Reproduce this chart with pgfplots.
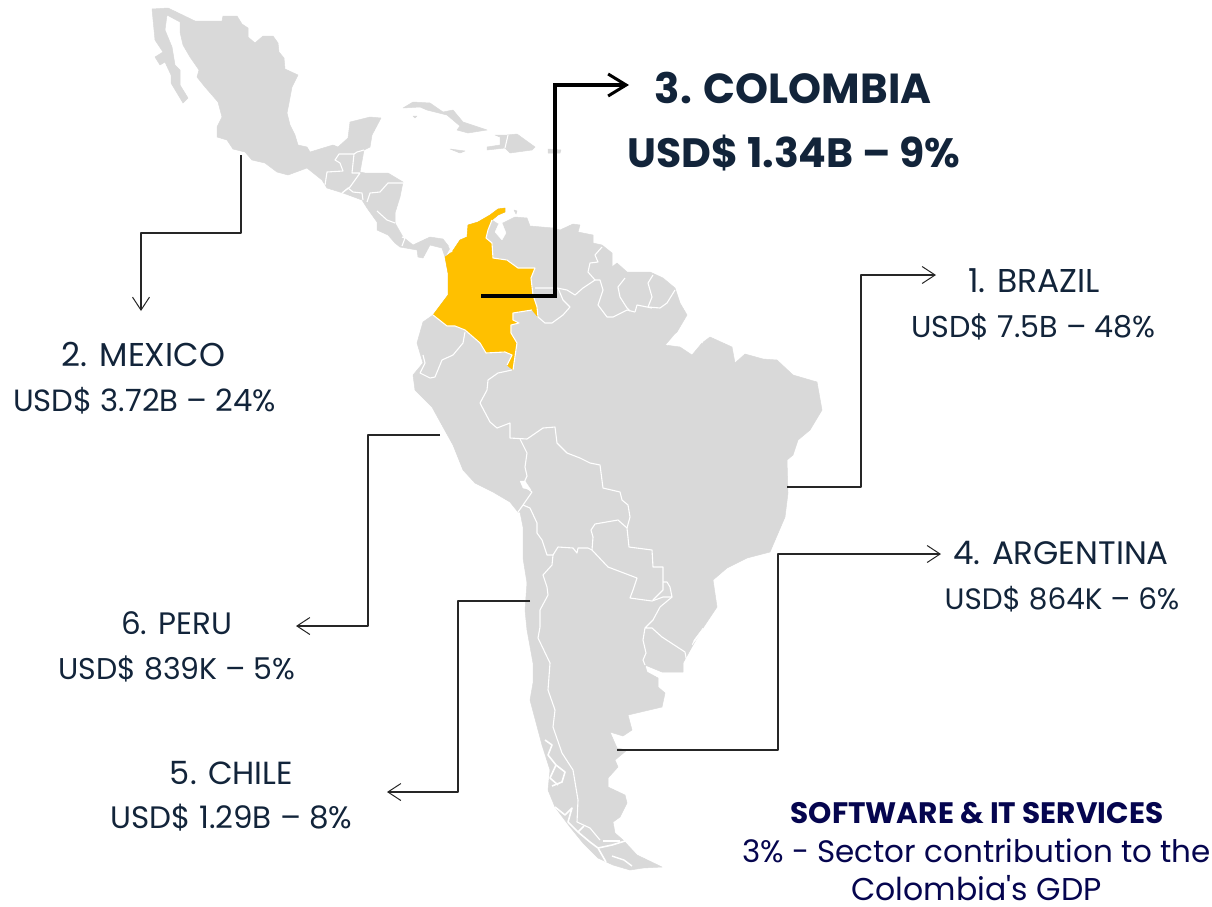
\documentclass[border=0pt]{standalone}
\usepackage{pgfplots}
\pgfplotsset{compat=1.18}
\usepackage{fontspec}
\setmainfont{Poppins}[Ligatures=TeXOff]
\usetikzlibrary{arrows.meta}
\definecolor{land}{HTML}{D9D9D9}
\definecolor{gold}{HTML}{FFC000}
\definecolor{ink}{HTML}{12243A}
\definecolor{navy}{HTML}{05054F}
\newcommand{\fs}[1]{\fontsize{#1}{#1}\selectfont\ignorespaces}
\tikzset{lab/.style={anchor=base, inner sep=0pt, outer sep=0pt}}
\begin{document}
\begin{tikzpicture}
\begin{axis}[
  hide axis, scale only axis, width=1212pt, height=906pt,
  xmin=0, xmax=1212, ymin=0, ymax=906, y dir=reverse,
  clip=false,
  every axis plot/.append style={line join=round},
  land/.style={fill=land, draw=land, line width=0.5pt},
  border/.style={draw=white, line width=1.1pt, no marks},
  leader/.style={draw=black!85, line width=1.2pt, -{Straight Barb[length=13pt,width=17pt,line width=1pt]}},
]
\addplot[draw=none] coordinates {(0,0)(1212,906)};

% mexico and central america
\addplot[land] coordinates {(152,9)(168,8)(195,21)(222,21)(223,16)(237,16)(242,24)(248,28)(248,37)(255,43)(263,36)(273,36)(278,43)(279,52)(284,58)(285,69)(298,75)(292,87)(289,103)(287,113)(290,125)(295,135)(298,145)(307,147)(310,152)(333,145)(338,147)(348,138)(350,122)(370,117)(381,118)(372,135)(370,147)(364,150)(360,172)(365,173)(388,173)(403,182)(400,197)(395,213)(395,223)(403,237)(413,245)(430,237)(443,239)(450,248)(445,257)(442,248)(430,245)(423,258)(418,257)(417,250)(400,247)(395,243)(388,235)(377,230)(377,222)(367,208)(362,200)(343,193)(327,188)(322,180)(307,168)(288,175)(277,172)(265,163)(252,160)(245,152)(233,149)(227,140)(217,137)(217,127)(222,117)(218,102)(205,87)(197,77)(199,70)(190,57)(183,45)(180,32)(180,22)(167,15)(165,30)(172,47)(175,65)(180,70)(180,85)(188,98)(183,103)(171,83)(171,75)(165,62)(160,65)(155,57)(163,52)(155,40)} -- cycle;
% caribbean
\addplot[land] coordinates {(403,108)(413,102)(430,103)(443,112)(453,110)(463,122)(487,130)(468,133)(457,130)(460,126)(447,115)(427,110)(420,107)} -- cycle;
\addplot[land] coordinates {(450,149)(465,151)(460,153)} -- cycle;
\addplot[land] coordinates {(495,135)(507,135)(517,134)(535,147)(532,150)(510,153)(505,148)(487,150)(487,147)(500,145)(500,137)} -- cycle;
\addplot[land] coordinates {(548,149)(561,150)(560,153)(548,153)} -- cycle;
\addplot[land] coordinates {(413,116)(417,116)(415,118)} -- cycle;
\addplot[land] coordinates {(514,210)(517,211)(516,214)} -- cycle;

% south america
\addplot[land] coordinates {(505,208)(505,212)(498,215)(492,220)(498,224)(503,223)(515,217)(527,218)(530,226)(553,228)(560,230)(573,224)(580,225)(578,232)(593,235)(593,243)(602,245)(612,253)(612,267)(617,263)(627,272)(650,272)(663,278)(675,288)(680,303)(687,315)(677,332)(665,345)(680,347)(692,355)(702,343)(710,337)(732,347)(735,363)(745,354)(763,359)(777,360)(793,375)(817,382)(822,410)(810,430)(798,440)(793,455)(787,460)(788,493)(785,517)(770,552)(747,558)(727,568)(713,580)(717,607)(703,628)(693,645)(683,663)(683,672)(662,672)(645,665)(647,672)(658,678)(658,687)(665,693)(662,707)(628,715)(632,730)(623,736)(610,732)(617,748)(627,750)(615,760)(618,767)(608,778)(608,787)(625,795)(627,803)(620,817)(613,822)(615,833)(623,840)(637,855)(662,867)(643,868)(630,870)(613,865)(598,858)(583,843)(570,827)(555,807)(548,790)(550,770)(542,745)(538,730)(530,700)(533,683)(533,663)(527,630)(525,610)(527,583)(523,558)(523,527)(520,512)(518,512)(510,502)(493,492)(475,483)(463,470)(453,445)(443,427)(432,407)(415,390)(413,375)(423,363)(417,343)(423,322)(433,315)(448,295)(448,273)(445,257)(452,252)(460,240)(467,237)(468,225)(478,222)(490,215)(498,209)} -- cycle;
% colombia
\addplot[fill=gold, draw=gold, line width=0.4pt] coordinates {(505,208)(505,212)(498,215)(492,220)(488,230)(486,238)(492,243)(493,258)(507,260)(518,268)(535,268)(531,278)(533,295)(537,307)(538,317)(532,310)(513,313)(513,320)(519,323)(511,325)(511,333)(517,343)(513,370)(507,365)(512,355)(505,352)(486,353)(480,343)(465,330)(455,326)(447,326)(433,315)(448,295)(448,273)(445,257)(452,252)(460,240)(467,237)(468,225)(478,222)(490,215)(498,209)} -- cycle;

% water inside the land
\addplot[fill=white, draw=white, line width=0.3pt] coordinates {(500,221)(495,232)(502,240)(506,233)(502,223)} -- cycle;
\addplot[fill=white, draw=white, line width=0.3pt] coordinates {(520,481)(525,481)(531,490)(523,488)} -- cycle;
\addplot[fill=white, draw=white, line width=0.3pt] coordinates {(703,628)(694,640)(692,645)(702,632)} -- cycle;

% borders central america
\addplot[border] coordinates {(325,185)(327,172)(343,171)(340,163)(335,160)(339,154)(354,154)(352,173)(360,173)(350,187)(342,193)};
\addplot[border] coordinates {(354,154)(357,152)(364,150)};
\addplot[border] coordinates {(342,193)(348,188)(353,192)(362,193)(363,200)};
\addplot[border] coordinates {(367,202)(370,193)(380,192)(388,183)(403,183)};
\addplot[border] coordinates {(377,211)(387,220)(395,223)};
\addplot[border] coordinates {(402,237)(405,238)(402,246)};
\addplot[border] coordinates {(508,135)(505,148)};
% borders around colombia
\addplot[border] coordinates {(492,220)(488,230)(486,238)(492,243)(493,258)(507,260)(518,268)(535,268)(531,278)(533,295)(537,307)(538,317)};
\addplot[border] coordinates {(532,310)(513,313)(513,320)(519,323)(511,325)(511,333)(517,343)(513,370)};
\addplot[border] coordinates {(507,365)(512,355)(505,352)(486,353)(480,343)(465,330)(455,326)(447,326)(433,315)};
\addplot[border] coordinates {(452,252)(449,246)};
% northern south america
\addplot[border] coordinates {(602,247)(595,255)(598,262)(590,263)(588,272)(595,280)(583,288)(575,295)(567,290)(557,288)(535,288)};
\addplot[border] coordinates {(558,288)(563,300)(570,307)(563,315)(552,323)(545,323)(538,317)};
\addplot[border] coordinates {(595,280)(600,280)(603,290)(598,305)(607,317)(613,317)(627,310)(635,312)};
\addplot[border] coordinates {(625,278)(618,287)(620,297)(627,308)(630,311)};
\addplot[border] coordinates {(635,312)(637,305)(647,307)(652,308)};
\addplot[border] coordinates {(653,275)(648,283)(652,297)(648,307)};
\addplot[border] coordinates {(648,307)(660,308)(667,303)(675,290)};
% amazon delta
\addplot[border] coordinates {(667,345)(675,335)(684,328)(695,332)(704,332)(702,343)};
\addplot[border] coordinates {(684,328)(681,343)(692,348)};
% ecuador, peru, bolivia, brazil
\addplot[border] coordinates {(465,332)(463,343)(453,355)(442,360)(435,377)(430,378)(420,373)(425,363)(423,355)};
\addplot[border] coordinates {(512,370)(498,373)(488,380)(487,390)(480,403)(490,422)(497,428)(510,423)(510,438)(527,439)(543,428)(555,427)(557,443)(567,453)(580,458)(590,463)(600,465)(603,488)(620,492)(622,500)(628,505)(630,517)(627,528)};
\addplot[border] coordinates {(520,439)(527,453)(525,467)(527,476)(523,485)(532,492)(523,505)(518,512)};
\addplot[border] coordinates {(523,505)(530,508)(537,523)(537,533)(542,540)(547,555)(553,555)};
\addplot[border] coordinates {(553,555)(558,547)(573,548)(577,553)(578,548)(588,548)(592,550)};
\addplot[border] coordinates {(592,550)(593,537)(591,530)(595,524)(618,520)(627,528)(629,547)(652,550)(653,567)(663,567)(663,590)(653,600)};
\addplot[border] coordinates {(592,550)(608,567)(637,578)(633,590)(630,598)(652,601)(663,597)(672,597)(670,587)(667,582)(663,582)};
\addplot[border] coordinates {(672,597)(660,607)(653,620)(645,628)(652,628)(662,637)(685,652)(687,663)};
\addplot[border] coordinates {(645,628)(643,640)(646,653)(643,660)(645,665)};
\addplot[border] coordinates {(553,555)(552,565)(543,575)(547,587)(548,595)(540,610)(540,627)(538,638)(550,663)(548,690)(555,710)(553,727)(562,753)(573,770)(578,800)(577,822)(590,828)(600,840)};
% chilean fjords
\addplot[border, line width=1.6pt] coordinates {(545,740)(552,745)(548,755)(556,765)(550,778)(558,785)};
\addplot[border, line width=1.6pt] coordinates {(556,765)(565,772)(562,782)(552,786)};
\addplot[border, line width=1.6pt] coordinates {(555,807)(565,815)(572,808)(568,822)(578,832)(584,826)};
\addplot[border, line width=1.6pt] coordinates {(578,832)(590,842)(598,848)(606,862)};
\addplot[border, line width=1.6pt] coordinates {(598,848)(612,845)(625,841)};
\addplot[border] coordinates {(603,841)(620,841)};
\addplot[border, line width=1.4pt] coordinates {(612,856)(624,860)(632,866)};

% leaders
\addplot[leader] coordinates {(241,155)(241,233)(141,233)(141,311)};
\addplot[leader] coordinates {(787,487)(861,487)(861,275)(936,275)};
\addplot[leader] coordinates {(617,750)(778,750)(778,554)(941,554)};
\addplot[leader] coordinates {(440,435)(368,435)(368,626)(296,626)};
\addplot[leader] coordinates {(530,601)(458,601)(458,792)(387,792)};
\addplot[draw=black, line width=3.8pt, line join=miter, -{Straight Barb[length=18pt,width=22pt,line width=3pt]}] coordinates {(481,296)(555,296)(555,85)(629,85)};

% labels
\node[lab, text=ink] at (axis cs:793,103) {\fs{42}\bfseries 3. COLOMBIA};
\node[lab, text=ink] at (axis cs:794,167) {\fs{41}\bfseries USD\$ 1.34B – 9\%};
\node[lab, text=ink] at (axis cs:1034,292) {\fs{33} 1. BRAZIL};
\node[lab, text=ink] at (axis cs:1033.5,337) {\fs{30.2} USD\$ 7.5B – 48\%};
\node[lab, text=ink] at (axis cs:143.5,366) {\fs{33} 2. MEXICO};
\node[lab, text=ink] at (axis cs:144.5,411) {\fs{30.7} USD\$ 3.72B – 24\%};
\node[lab, text=ink] at (axis cs:1061,564) {\fs{32.5} 4. ARGENTINA};
\node[lab, text=ink] at (axis cs:1062,609) {\fs{29.5} USD\$ 864K – 6\%};
\node[lab, text=ink] at (axis cs:176.5,634) {\fs{31} 6. PERU};
\node[lab, text=ink] at (axis cs:177,679) {\fs{30} USD\$ 839K – 5\%};
\node[lab, text=ink] at (axis cs:231.5,784) {\fs{32} 5. CHILE};
\node[lab, text=ink] at (axis cs:231.5,828) {\fs{31} USD\$ 1.29B – 8\%};
\node[lab, text=navy] at (axis cs:977,823) {\fs{29.6}\bfseries SOFTWARE \& IT SERVICES};
\node[lab, text=navy] at (axis cs:976.5,862) {\fs{31} 3\% - Sector contribution to the};
\node[lab, text=navy] at (axis cs:976.5,900) {\fs{31.5} Colombia's GDP};
\end{axis}
\end{tikzpicture}
\end{document}
